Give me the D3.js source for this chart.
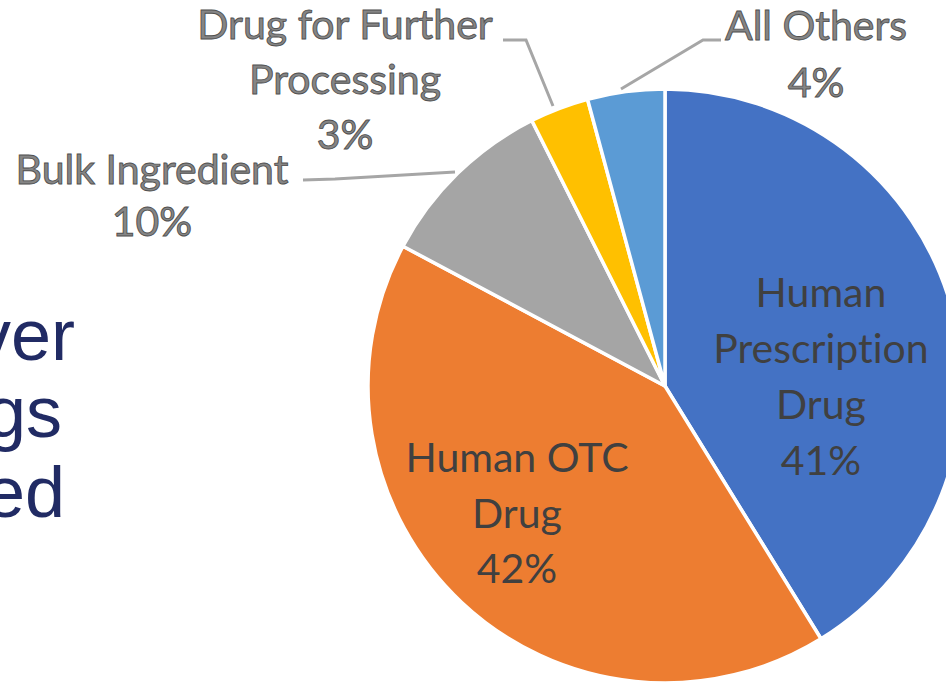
<!DOCTYPE html>
<html><head><meta charset="utf-8">
<script src="https://cdn.jsdelivr.net/npm/d3@7"></script>
<style>
html,body{margin:0;padding:0;background:#fff;overflow:hidden;}
svg{display:block;}
text{font-variant-ligatures:none;font-feature-settings:"liga" 0,"clig" 0;}
</style></head>
<body>
<script>
// ---- data ----
const categories = ["Human Prescription Drug", "Human OTC Drug", "Bulk Ingredient", "Drug for Further Processing", "All Others"];
const values = [41.2, 41.6, 9.8, 3.2, 4.2];
const labelLines = [["Human", "Prescription", "Drug"], ["Human OTC", "Drug"], ["Bulk Ingredient"], ["Drug for Further", "Processing"], ["All Others"]];
const colors = ["#4472C4", "#ED7D31", "#A5A5A5", "#FFC000", "#5B9BD5"];
const sideText = ["ver", "gs", "ed"];

const W = 946, H = 687;
const svg = d3.select("body").append("svg").attr("width", W).attr("height", H);

// partial slide text on the left (cropped in the reference)
const side = svg.append("g");
const sideRight = [75, 62, 65];
const sideBase = [360, 437, 517];
sideText.forEach((t, i) => {
  side.append("text").attr("x", sideRight[i]).attr("y", sideBase[i])
    .attr("text-anchor", "end").attr("font-family", "Liberation Sans, Arial, sans-serif")
    .attr("font-size", 72).attr("fill", "#212B64").text(t);
});

const cx = 665, cy = 386, R = 297;
const data = categories.map((c, i) => ({ cat: c, value: values[i], color: colors[i], lines: labelLines[i] }));
const pie = d3.pie().value(d => d.value).sort(null);
const arc = d3.arc().innerRadius(0).outerRadius(R);
const arcs = pie(data);

const g = svg.append("g").attr("transform", `translate(${cx},${cy})`);
g.selectAll("path.slice").data(arcs).enter().append("path")
  .attr("class", "slice").attr("d", arc)
  .attr("fill", d => d.data.color)
  .attr("stroke", "#fff").attr("stroke-width", 3.5).attr("stroke-linejoin", "round");

const fmt = v => Math.round(v) + "%";
const font = "Lato, Carlito, Calibri, sans-serif";
const FS = 41;

// inside labels
const inside = [
  { i: 0, x: 156, y: -79, gap: 56 },
  { i: 1, x: -148, y: 86, gap: 55.5 }
];
inside.forEach(o => {
  const d = arcs[o.i];
  const lines = d.data.lines.concat([fmt(d.data.value)]);
  const t = g.append("text").attr("text-anchor", "middle").attr("font-family", font)
    .attr("font-size", FS).attr("fill", "#404040");
  lines.forEach((l, k) => t.append("tspan").attr("x", o.x).attr("y", o.y + k * o.gap).text(l));
});

// outside labels with leader lines
const outside = [
  { i: 2, x: 152 - cx, y: 184 - cy, gap: 52, leader: [[303, 180], [335, 179], [455, 172]] },
  { i: 3, x: 345 - cx, y: 39 - cy, gap: 55, leader: [[503, 40], [526, 40], [553, 106]] },
  { i: 4, x: 816 - cx, y: 40 - cy, gap: 57, leader: [[721, 40], [703, 40], [621, 89]] }
];
outside.forEach(o => {
  const d = arcs[o.i];
  svg.append("polyline")
    .attr("points", o.leader.map(p => p.join(",")).join(" "))
    .attr("fill", "none").attr("stroke", "#A6A6A6").attr("stroke-width", 3);
  const lines = d.data.lines.concat([fmt(d.data.value)]);
  const t = g.append("text").attr("text-anchor", "middle").attr("font-family", font)
    .attr("font-size", FS).attr("fill", "#858585")
    .attr("stroke", "#505050").attr("stroke-width", 0.9);
  lines.forEach((l, k) => t.append("tspan").attr("x", o.x).attr("y", o.y + k * o.gap).text(l));
});
</script>
</body></html>
